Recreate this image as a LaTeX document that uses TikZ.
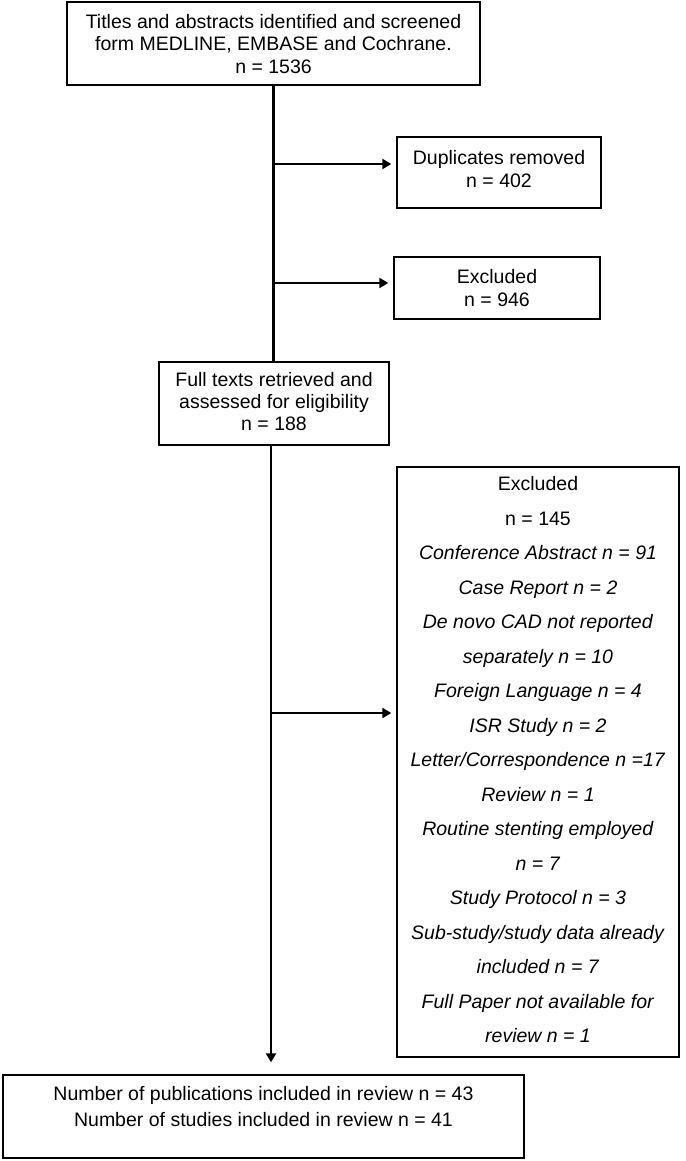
\documentclass[tikz,border=0pt]{standalone}
\usepackage{fontspec}
\setmainfont{Liberation Sans}
\usetikzlibrary{arrows.meta}
\begin{document}
\begin{tikzpicture}[x=1pt,y=-1pt,
  box/.style={draw=black, line width=1.4pt, inner sep=0pt},
  txt/.style={align=center, inner sep=0pt, font=\fontsize{19.5}{22.5}\selectfont},
  flow/.style={line width=2.8pt},
  arr/.style={line width=2.8pt, -{Triangle[width=10pt,length=9pt]}, shorten >=5pt}
]
\useasboundingbox (0,0) rectangle (685,1161);
% boxes
\node[box, line width=2pt, minimum width=413pt, minimum height=83pt] (b1) at (273.5,43.5) {};
\node[txt] (b1t) at (273.5,44) {Titles and abstracts identified and screened\\form MEDLINE, EMBASE and Cochrane.\\n = 1536};
\node[box, minimum width=204pt, minimum height=71pt] (dup) at (499,172.5) {};
\node[txt] (dupt) at (499,169) {Duplicates removed\\n = 402};
\node[box, minimum width=206pt, minimum height=62pt] (exc) at (497,288) {};
\node[txt] (exct) at (497,288) {Excluded\\n = 946};
\node[box, minimum width=230pt, minimum height=83pt] (ft) at (274,403.5) {};
\node[txt, font=\fontsize{19.5}{22}\selectfont] (ftt) at (274,401.5) {Full texts retrieved and\\assessed for eligibility\\n = 188};
\node[box, minimum width=282pt, minimum height=590pt] (big) at (538,762) {};
\node[txt, font=\fontsize{19.5}{34.5}\selectfont] (bigt) at (538,760) {Excluded\\n = 145\\
\textit{Conference Abstract n = 91}\\
\textit{Case Report n = 2}\\
\textit{De novo CAD not reported}\\
\textit{separately n = 10}\\
\textit{Foreign Language n = 4}\\
\textit{ISR Study n = 2}\\
\textit{Letter/Correspondence n =17}\\
\textit{Review n = 1}\\
\textit{Routine stenting employed}\\
\textit{n = 7}\\
\textit{Study Protocol n = 3}\\
\textit{Sub-study/study data already}\\
\textit{included n = 7}\\
\textit{Full Paper not available for}\\
\textit{review n = 1}};
\node[box, minimum width=521pt, minimum height=83pt] (bot) at (263.5,1116.5) {};
\node[txt, font=\fontsize{19.5}{26}\selectfont] (bott) at (263.5,1107) {Number of publications included in review n = 43\\Number of studies included in review n = 41};
% connectors
\draw[flow] (b1.south) -- (b1.south |- ft.north);
\coordinate (j1) at (273.5,164);
\coordinate (j2) at (273.5,283);
\draw[arr] (j1) -- (j1 -| dup.west);
\draw[arr] (j2) -- (j2 -| exc.west);
\coordinate (j3) at (271,713);
\coordinate (ftb) at (271,445);
\draw[flow, -{Triangle[width=10pt,length=9pt]}, shorten >=12pt] (ftb) -- (ftb |- bot.north);
\draw[arr] (j3) -- (j3 -| big.west);
\end{tikzpicture}
\end{document}
